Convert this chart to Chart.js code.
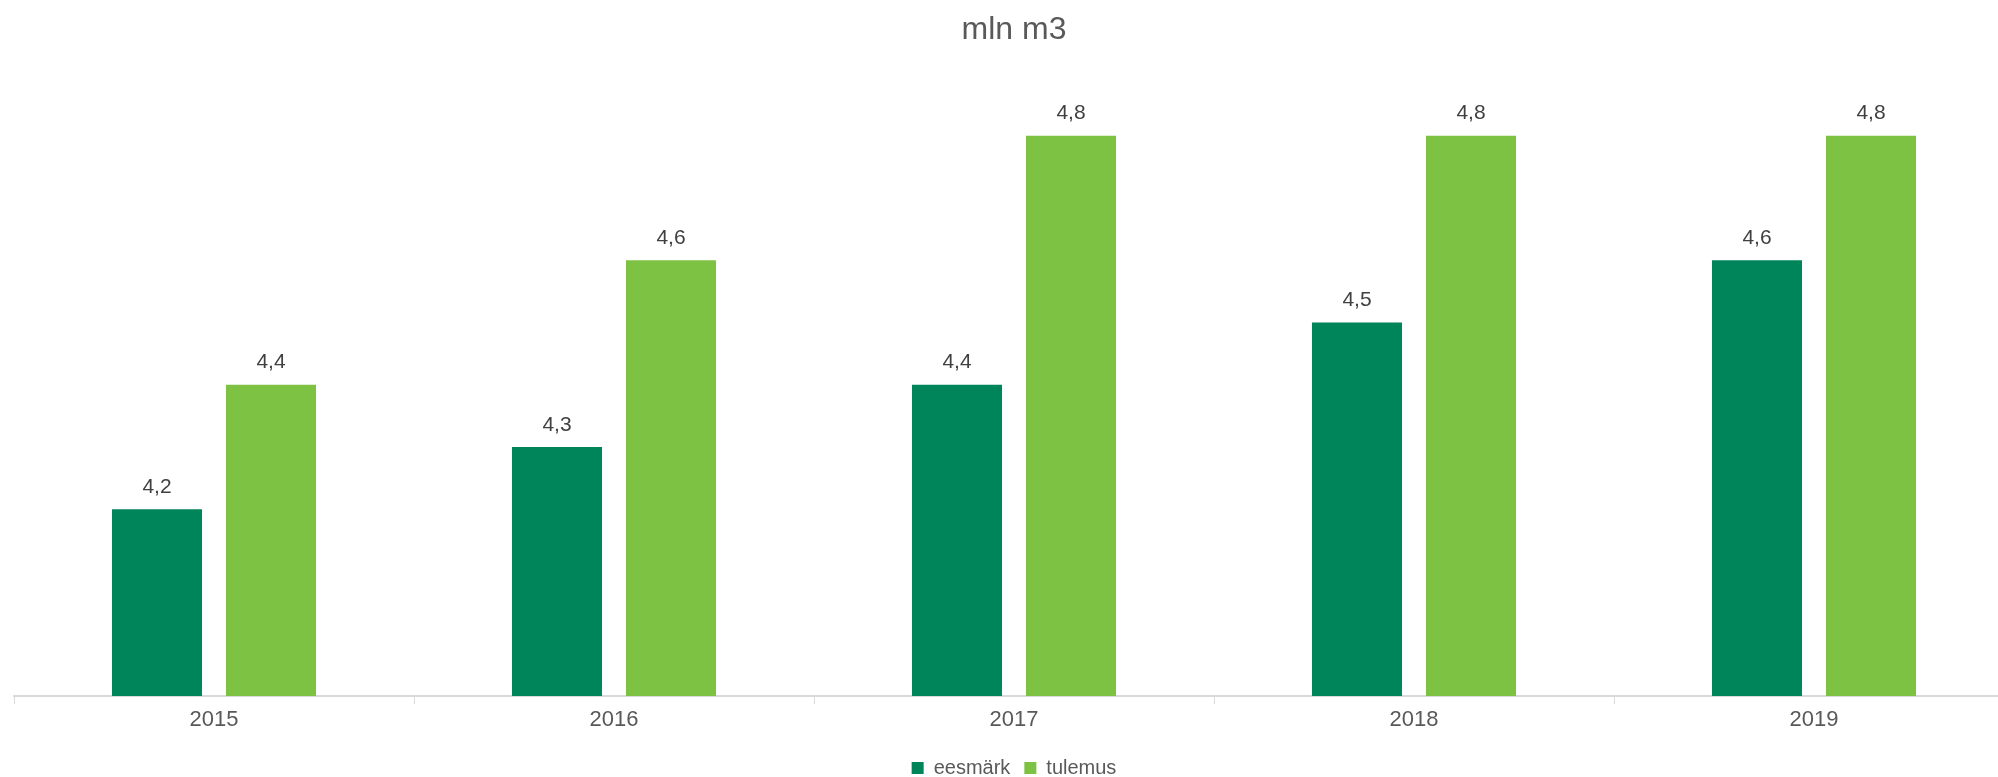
<!DOCTYPE html>
<html>
<head>
<meta charset="utf-8">
<script src="https://cdn.jsdelivr.net/npm/chart.js@4/dist/chart.umd.min.js"></script>
<style>
    html, body { margin: 0; padding: 0; background: #fff; overflow: hidden; }
    #wrap { width: 2026px; height: 788px; position: relative; }
</style>
</head>
<body>
<div id="wrap"><canvas id="chart"></canvas></div>
<script>
const aastad = ['2015', '2016', '2017', '2018', '2019'];
const eesmark = [4.2, 4.3, 4.4, 4.5, 4.6];
const tulemus = [4.4, 4.6, 4.8, 4.8, 4.8];
const seeriad = ['eesmärk', 'tulemus'];

const fontFamily = '"Liberation Sans", Arial, sans-serif';

// vaartused tulpade kohale, koma kui kumnendmark
const vaartusSildid = {
    id: 'vaartusSildid',
    afterDatasetsDraw(chart) {
        const ctx = chart.ctx;
        ctx.save();
        ctx.font = '21px ' + fontFamily;
        ctx.fillStyle = '#404040';
        ctx.textAlign = 'center';
        ctx.textBaseline = 'middle';
        chart.data.datasets.forEach((ds, i) => {
            chart.getDatasetMeta(i).data.forEach((bar, j) => {
                ctx.fillText(ds.data[j].toFixed(1).replace('.', ','), bar.x, bar.y - 22);
            });
        });
        ctx.restore();
    }
};

new Chart(document.getElementById('chart').getContext('2d'), {
    type: 'bar',
    data: {
        labels: aastad,
        datasets: [{
            label: seeriad[0],
            data: eesmark,
            backgroundColor: '#00845A',
            categoryPercentage: 0.57,
            barPercentage: 0.79
        }, {
            label: seeriad[1],
            data: tulemus,
            backgroundColor: '#7EC243',
            categoryPercentage: 0.57,
            barPercentage: 0.79
        }]
    },
    options: {
        responsive: true,
        maintainAspectRatio: false,
        animation: false,
        layout: {
            padding: { left: 14, right: 12, top: 0, bottom: 0 }
        },
        plugins: {
            title: {
                display: true,
                text: 'mln m3',
                color: '#595959',
                font: { family: fontFamily, size: 32, weight: 'normal' },
                padding: { top: 11, bottom: 24 }
            },
            legend: {
                position: 'bottom',
                labels: {
                    boxWidth: 12,
                    boxHeight: 12,
                    padding: 14,
                    color: '#595959',
                    font: { family: fontFamily, size: 20 }
                }
            },
            tooltip: { enabled: false }
        },
        scales: {
            y: {
                display: false,
                min: 3.9,
                max: 4.9
            },
            x: {
                afterFit: function(scale) {
                    scale.height = 48;
                },
                grid: {
                    display: true,
                    drawOnChartArea: false,
                    tickLength: 8,
                    color: '#D9D9D9'
                },
                border: {
                    display: true,
                    color: '#D9D9D9',
                    width: 2
                },
                ticks: {
                    color: '#595959',
                    padding: 3,
                    font: { family: fontFamily, size: 22 }
                }
            }
        }
    },
    plugins: [vaartusSildid]
});
</script>
</body>
</html>
